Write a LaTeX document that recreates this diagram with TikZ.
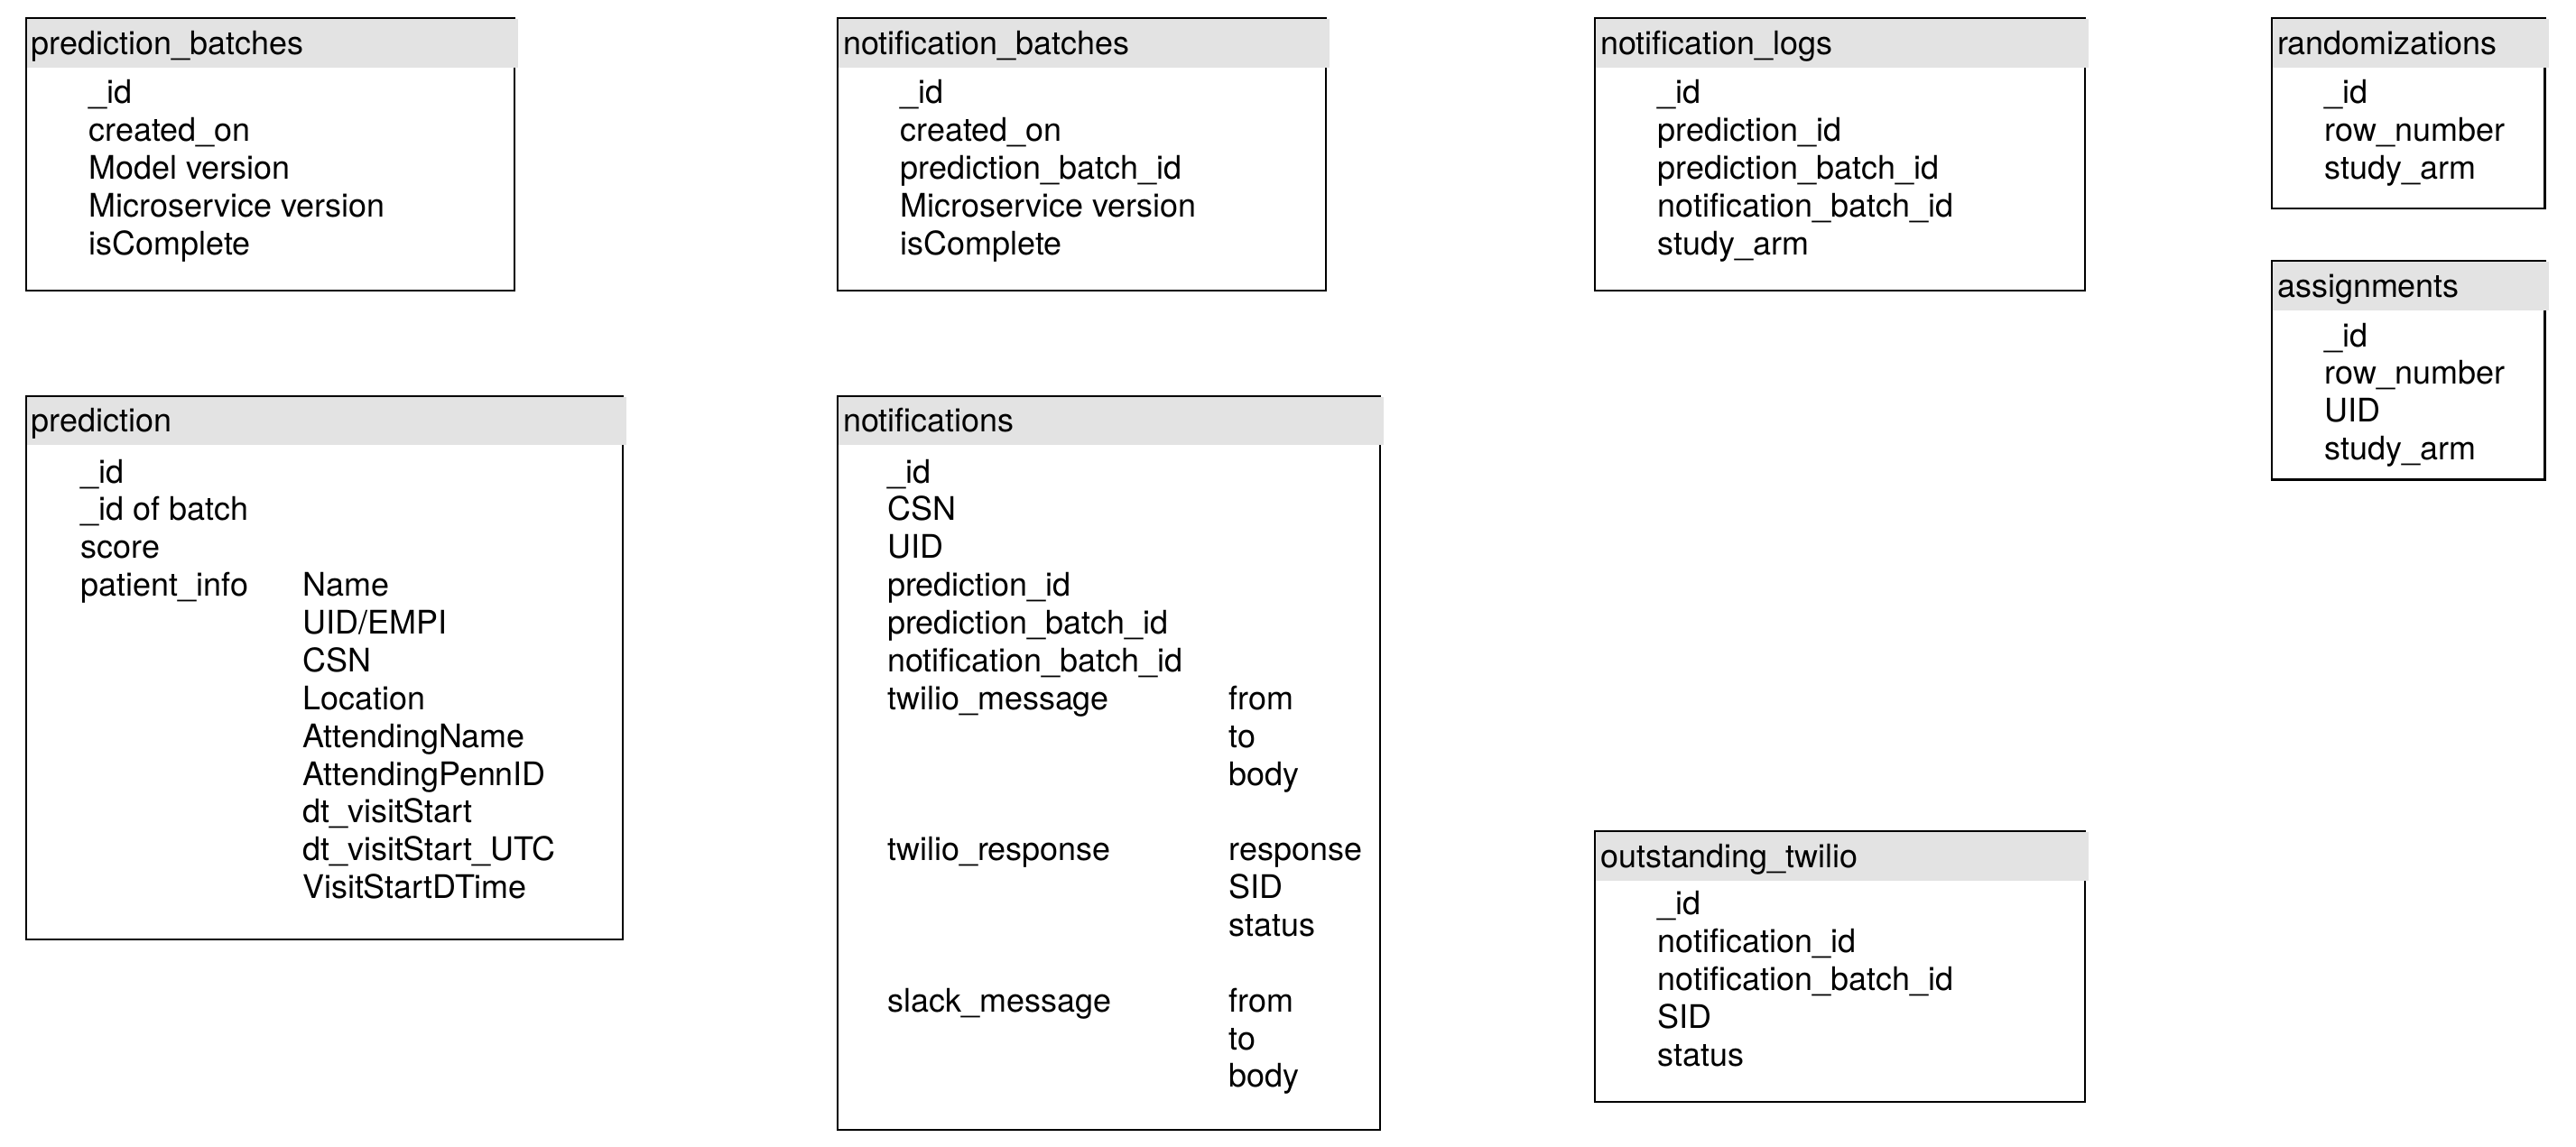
\documentclass[tikz,border=0pt]{standalone}
\usepackage{fontspec}
\setmainfont{TeX Gyre Heros}
\definecolor{hdrgray}{HTML}{E3E3E3}
\tikzset{
  tbox/.style={draw=black, line width=1.2pt, anchor=north west, inner sep=0pt, outer sep=0pt},
  hdr/.style={fill=hdrgray, anchor=north west, inner sep=0pt, outer sep=0pt},
  ttl/.style={anchor=base west, inner sep=0pt, font=\fontsize{19.75}{23}\selectfont},
  fld/.style={anchor=base west, inner sep=0pt, font=\fontsize{19.75}{23}\selectfont},
}
% name, x, y, w, h, title
\newcommand\mktable[6]{%
  \node[tbox, minimum width=#4pt, minimum height=#5pt] (#1) at (#2,-#3) {};
  \node[hdr, minimum width=#4pt+1.8pt, minimum height=29.5pt] (#1h) at (#2+0.6,-#3-0.6) {};
  \node[ttl] (#1t) at (#2+3,-#3-22) {#6};
}
\begin{document}
\begin{tikzpicture}[x=1pt,y=1pt]
\useasboundingbox (0,0) rectangle (1568,-698);

% prediction_batches
\mktable{pb}{16}{11}{297}{166}{prediction\_batches}
\foreach \t [count=\i from 0] in {\_id, created\_on, Model version, Microservice version, isComplete}
  \node[fld] (pbf\i) at (54,{-63-23*\i}) {\t};

% notification_batches
\mktable{nb}{510}{11}{297}{166}{notification\_batches}
\foreach \t [count=\i from 0] in {\_id, created\_on, prediction\_batch\_id, Microservice version, isComplete}
  \node[fld] (nbf\i) at (548,{-63-23*\i}) {\t};

% notification_logs
\mktable{nl}{971}{11}{298}{166}{notification\_logs}
\foreach \t [count=\i from 0] in {\_id, prediction\_id, prediction\_batch\_id, notification\_batch\_id, study\_arm}
  \node[fld] (nlf\i) at (1009,{-63-23*\i}) {\t};

% randomizations
\mktable{rnd}{1383}{11}{166}{116}{randomizations}
\foreach \t [count=\i from 0] in {\_id, row\_number, study\_arm}
  \node[fld] (rndf\i) at (1415,{-63-23*\i}) {\t};

% assignments
\mktable{asg}{1383}{159}{166}{133}{assignments}
\foreach \t [count=\i from 0] in {\_id, row\_number, UID, study\_arm}
  \node[fld] (asgf\i) at (1415,{-211-23*\i}) {\t};

% prediction
\mktable{pred}{16}{241}{363}{331}{prediction}
\foreach \t [count=\i from 0] in {\_id, \_id of batch, score, patient\_info}
  \node[fld] (predf\i) at (49,{-294-23*\i}) {\t};
\foreach \t [count=\i from 0] in {Name, UID/EMPI, CSN, Location, AttendingName, AttendingPennID, dt\_visitStart, dt\_visitStart\_UTC, VisitStartDTime}
  \node[fld] (predg\i) at (184,{-363-23*\i}) {\t};

% notifications
\mktable{nt}{510}{241}{330}{447}{notifications}
\foreach \t [count=\i from 0] in {\_id, CSN, UID, prediction\_id, prediction\_batch\_id, notification\_batch\_id, twilio\_message}
  \node[fld] (ntf\i) at (540,{-294-23*\i}) {\t};
\node[fld] (ntf7) at (540,{-294-23*10}) {twilio\_response};
\node[fld] (ntf8) at (540,{-294-23*14}) {slack\_message};
\foreach \t/\r [count=\i from 0] in {from/6, to/7, body/8, response/10, SID/11, status/12, from/14, to/15, body/16}
  \node[fld] (ntg\i) at (748,{-294-23*\r}) {\t};

% outstanding_twilio
\mktable{ot}{971}{506}{298}{165}{outstanding\_twilio}
\foreach \t [count=\i from 0] in {\_id, notification\_id, notification\_batch\_id, SID, status}
  \node[fld] (otf\i) at (1009,{-557-23*\i}) {\t};
\end{tikzpicture}
\end{document}
